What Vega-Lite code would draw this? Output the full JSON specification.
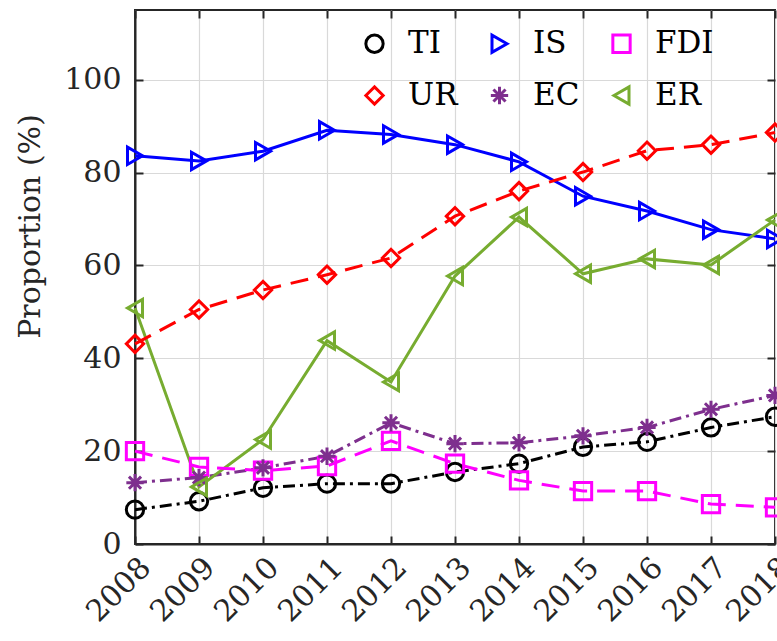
{
  "$schema": "https://vega.github.io/schema/vega-lite/v6.json",
  "width": 640,
  "height": 534,
  "autosize": "none",
  "padding": {"left": 135, "top": 10, "right": 2, "bottom": 97},
  "background": "white",
  "config": {
    "font": "DejaVu Serif",
    "view": {"stroke": "#262626", "strokeWidth": 2},
    "text": {"font": "DejaVu Serif"},
    "legend": {"labelFont": "DejaVu Serif"},
    "axis": {
      "labelFont": "DejaVu Serif", "labelFontSize": 30, "labelColor": "#262626",
      "titleFont": "DejaVu Serif", "titleFontSize": 30, "titleFontWeight": "normal", "titleColor": "#262626",
      "gridColor": "#d9d9d9", "gridWidth": 1.2, "domainColor": "#262626", "domainWidth": 2,
      "tickColor": "#262626", "tickWidth": 2, "tickSize": -8
    }
  },
  "data": {"values": [
    {"year": 2008, "series": "TI", "value": 7.4}, {"year": 2009, "series": "TI", "value": 9.2}, {"year": 2010, "series": "TI", "value": 12.1}, {"year": 2011, "series": "TI", "value": 13.0}, {"year": 2012, "series": "TI", "value": 13.0}, {"year": 2013, "series": "TI", "value": 15.5}, {"year": 2014, "series": "TI", "value": 17.3}, {"year": 2015, "series": "TI", "value": 20.9}, {"year": 2016, "series": "TI", "value": 22.0}, {"year": 2017, "series": "TI", "value": 25.1}, {"year": 2018, "series": "TI", "value": 27.4},
    {"year": 2008, "series": "IS", "value": 83.6}, {"year": 2009, "series": "IS", "value": 82.5}, {"year": 2010, "series": "IS", "value": 84.6}, {"year": 2011, "series": "IS", "value": 89.1}, {"year": 2012, "series": "IS", "value": 88.2}, {"year": 2013, "series": "IS", "value": 86.0}, {"year": 2014, "series": "IS", "value": 82.3}, {"year": 2015, "series": "IS", "value": 74.9}, {"year": 2016, "series": "IS", "value": 71.7}, {"year": 2017, "series": "IS", "value": 67.7}, {"year": 2018, "series": "IS", "value": 65.7},
    {"year": 2008, "series": "FDI", "value": 20.0}, {"year": 2009, "series": "FDI", "value": 16.6}, {"year": 2010, "series": "FDI", "value": 15.8}, {"year": 2011, "series": "FDI", "value": 16.8}, {"year": 2012, "series": "FDI", "value": 22.2}, {"year": 2013, "series": "FDI", "value": 17.3}, {"year": 2014, "series": "FDI", "value": 13.7}, {"year": 2015, "series": "FDI", "value": 11.4}, {"year": 2016, "series": "FDI", "value": 11.4}, {"year": 2017, "series": "FDI", "value": 8.6}, {"year": 2018, "series": "FDI", "value": 7.9},
    {"year": 2008, "series": "UR", "value": 43.1}, {"year": 2009, "series": "UR", "value": 50.5}, {"year": 2010, "series": "UR", "value": 54.7}, {"year": 2011, "series": "UR", "value": 58.0}, {"year": 2012, "series": "UR", "value": 61.6}, {"year": 2013, "series": "UR", "value": 70.6}, {"year": 2014, "series": "UR", "value": 76.0}, {"year": 2015, "series": "UR", "value": 80.1}, {"year": 2016, "series": "UR", "value": 84.7}, {"year": 2017, "series": "UR", "value": 86.0}, {"year": 2018, "series": "UR", "value": 88.6},
    {"year": 2008, "series": "EC", "value": 13.2}, {"year": 2009, "series": "EC", "value": 14.3}, {"year": 2010, "series": "EC", "value": 16.4}, {"year": 2011, "series": "EC", "value": 18.9}, {"year": 2012, "series": "EC", "value": 26.1}, {"year": 2013, "series": "EC", "value": 21.6}, {"year": 2014, "series": "EC", "value": 21.8}, {"year": 2015, "series": "EC", "value": 23.3}, {"year": 2016, "series": "EC", "value": 25.1}, {"year": 2017, "series": "EC", "value": 29.0}, {"year": 2018, "series": "EC", "value": 32.0},
    {"year": 2008, "series": "ER", "value": 50.8}, {"year": 2009, "series": "ER", "value": 12.3}, {"year": 2010, "series": "ER", "value": 22.5}, {"year": 2011, "series": "ER", "value": 43.8}, {"year": 2012, "series": "ER", "value": 34.9}, {"year": 2013, "series": "ER", "value": 57.7}, {"year": 2014, "series": "ER", "value": 70.4}, {"year": 2015, "series": "ER", "value": 58.2}, {"year": 2016, "series": "ER", "value": 61.4}, {"year": 2017, "series": "ER", "value": 60.1}, {"year": 2018, "series": "ER", "value": 69.8}
  ]},
  "encoding": {
    "x": {"field": "year", "type": "quantitative", "scale": {"domain": [2008, 2018], "nice": false, "zero": false}, "axis": null},
    "y": {"field": "value", "type": "quantitative", "scale": {"domain": [0, 115], "nice": false}, "axis": null},
    "color": {"field": "series", "type": "nominal",
              "scale": {"domain": ["TI", "IS", "FDI", "UR", "EC", "ER"], "range": ["#000000", "#0000FF", "#FF00FF", "#FF0000", "#7E2F8E", "#77AC30"]},
              "legend": {"orient": "none", "direction": "horizontal", "legendX": 224, "legendY": 18, "columns": 3, "title": null,
                         "labelFont": "DejaVu Serif", "labelFontSize": 31, "labelColor": "#000000",
                         "symbolStrokeWidth": 3, "symbolSize": 300, "rowPadding": 20, "columnPadding": 26, "labelOffset": 18}}
  },
  "layer": [
    {
      "mark": {"type": "point", "opacity": 0},
      "encoding": {
        "x": {"field": "year", "type": "quantitative",
              "axis": {"values": [2008, 2009, 2010, 2011, 2012, 2013, 2014, 2015, 2016, 2017, 2018], "format": "d", "labelAngle": -45, "labelPadding": 16, "title": null, "grid": true, "labelFlush": false, "labelOverlap": false}},
        "y": {"field": "value", "type": "quantitative",
              "axis": {"values": [0, 20, 40, 60, 80, 100], "labelPadding": 22, "title": "Proportion (%)", "titleX": -105, "titleY": 216, "titleAngle": 270, "titleAlign": "center", "titleBaseline": "middle", "grid": true, "labelFlush": false}}
      }
    },
    {
      "transform": [{"filter": "datum.series == 'TI' || datum.series == 'EC'"}],
      "mark": {"type": "line", "strokeWidth": 3, "strokeDash": [12, 5, 3, 5]},
      "encoding": {}
    },
    {
      "transform": [{"filter": "datum.series == 'IS' || datum.series == 'ER'"}],
      "mark": {"type": "line", "strokeWidth": 3},
      "encoding": {}
    },
    {
      "transform": [{"filter": "datum.series == 'FDI' || datum.series == 'UR'"}],
      "mark": {"type": "line", "strokeWidth": 3, "strokeDash": [18, 10]},
      "encoding": {}
    },
    {
      "mark": {"type": "point", "filled": false, "strokeWidth": 3, "size": 300, "opacity": 1},
      "encoding": {
        "shape": {"field": "series", "type": "nominal",
                  "scale": {"domain": ["TI", "IS", "FDI", "UR", "EC", "ER"],
                            "range": ["circle", "triangle-right", "square", "diamond", "M-1,0L1,0M0,-1L0,1M-0.7,-0.7L0.7,0.7M-0.7,0.7L0.7,-0.7", "triangle-left"]}}
      }
    },
    {
      "mark": {"type": "point", "opacity": 0},
      "encoding": {
        "x": {"field": "year", "type": "quantitative",
              "axis": {"orient": "top", "values": [2008, 2009, 2010, 2011, 2012, 2013, 2014, 2015, 2016, 2017, 2018], "labels": false, "grid": false, "domain": false, "title": null}},
        "y": {"field": "value", "type": "quantitative",
              "axis": {"orient": "right", "values": [0, 20, 40, 60, 80, 100], "labels": false, "grid": false, "domain": false, "title": null}}
      }
    }
  ],
  "resolve": {"axis": {"x": "independent", "y": "independent"}}
}
